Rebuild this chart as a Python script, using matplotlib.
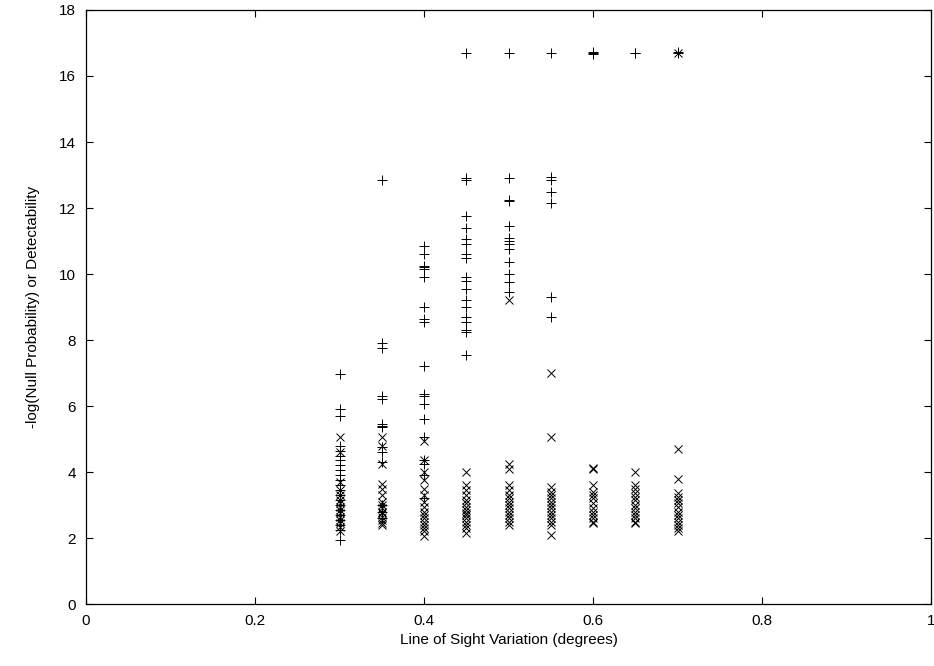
import matplotlib
matplotlib.use('Agg')
import matplotlib.pyplot as plt

plt.rcParams['font.family'] = ['Liberation Sans', 'DejaVu Sans']

# -log(Null Probability) points ("+") per line-of-sight variation
nullprob = {
    0.30: [6.97, 5.9, 5.7, 4.8, 4.65, 4.5, 4.35, 4.2, 4.05, 3.9, 3.75, 3.6, 3.45,
           3.3, 3.15, 3.0, 2.85, 2.7, 2.55, 2.4, 2.25, 1.95],
    0.35: [12.85, 7.9, 7.75, 6.3, 6.2, 5.45, 5.4, 5.35, 4.75, 4.6, 4.3, 3.0, 2.8, 2.6],
    0.40: [10.85, 10.6, 10.25, 10.2, 10.15, 9.9, 9.0, 8.65, 8.55, 7.2, 6.35, 6.3,
           6.05, 5.6, 5.05, 4.35, 4.25, 3.9, 3.2],
    0.45: [16.7, 12.9, 12.85, 11.75, 11.4, 11.05, 10.9, 10.6, 10.5, 9.9, 9.8, 9.55,
           9.2, 9.0, 8.7, 8.55, 8.3, 8.25, 7.55],
    0.50: [16.7, 12.9, 12.25, 12.2, 11.45, 11.1, 11.0, 10.9, 10.75, 10.35, 10.0,
           9.75, 9.45],
    0.55: [16.7, 12.95, 12.85, 12.5, 12.15, 9.3, 8.7],
    0.60: [16.7, 16.72, 16.68],
    0.65: [16.7, 16.71],
    0.70: [16.7, 16.72],
}

# Detectability points ("x")
detect = {
    0.30: [5.05, 4.6, 3.7, 3.45, 3.3, 3.15, 3.05, 2.95, 2.85, 2.75, 2.65, 2.55,
           2.45, 2.35, 2.2],
    0.35: [5.05, 4.8, 4.25, 3.65, 3.5, 3.3, 3.1, 3.0, 2.9, 2.8, 2.75, 2.65, 2.55,
           2.45, 2.4],
    0.40: [4.95, 4.35, 4.0, 3.75, 3.5, 3.3, 3.1, 2.95, 2.8, 2.7, 2.6, 2.5, 2.4,
           2.3, 2.2, 2.05],
    0.45: [4.0, 3.6, 3.45, 3.3, 3.15, 3.05, 2.95, 2.85, 2.75, 2.7, 2.6, 2.5, 2.4,
           2.3, 2.15],
    0.50: [9.2, 4.25, 4.1, 3.6, 3.45, 3.3, 3.2, 3.1, 3.0, 2.9, 2.8, 2.7, 2.6, 2.5,
           2.4],
    0.55: [7.0, 5.05, 3.55, 3.4, 3.3, 3.2, 3.1, 3.0, 2.9, 2.8, 2.7, 2.6, 2.5,
           2.4, 2.1],
    0.60: [4.12, 4.08, 3.6, 3.4, 3.3, 3.2, 3.05, 2.9, 2.8, 2.7, 2.6, 2.5, 2.45],
    0.65: [4.0, 3.6, 3.5, 3.35, 3.25, 3.15, 3.0, 2.9, 2.8, 2.7, 2.6, 2.5, 2.45],
    0.70: [16.7, 4.7, 3.8, 3.35, 3.25, 3.15, 3.05, 2.95, 2.8, 2.7, 2.6, 2.5, 2.4,
           2.3, 2.2],
}

xticks = [0, 0.2, 0.4, 0.6, 0.8, 1]
yticks = [0, 2, 4, 6, 8, 10, 12, 14, 16, 18]

fig = plt.figure(figsize=(9.34, 6.66), dpi=100)
ax = fig.add_axes([0.092, 0.093, 0.905, 0.892])

for x, vals in nullprob.items():
    ax.plot([x] * len(vals), vals, linestyle='none', marker='+', color='black',
            markersize=7.5, markeredgewidth=0.7)
for x, vals in detect.items():
    ax.plot([x] * len(vals), vals, linestyle='none', marker='x', color='black',
            markersize=6, markeredgewidth=0.7)

ax.set_xlim(0, 1)
ax.set_ylim(0, 18)
ax.set_xticks(xticks)
ax.set_xticklabels(['0', '0.2', '0.4', '0.6', '0.8', '1'])
ax.set_yticks(yticks)
ax.tick_params(direction='in', length=5, width=0.8, top=True, right=True,
               labelsize=11, pad=7)
for s in ax.spines.values():
    s.set_linewidth(0.9)

ax.set_xlabel('Line of Sight Variation (degrees)', fontsize=11, labelpad=4)
ax.set_ylabel('-log(Null Probability) or Detectability', fontsize=11, labelpad=14)

plt.savefig('out.png')
